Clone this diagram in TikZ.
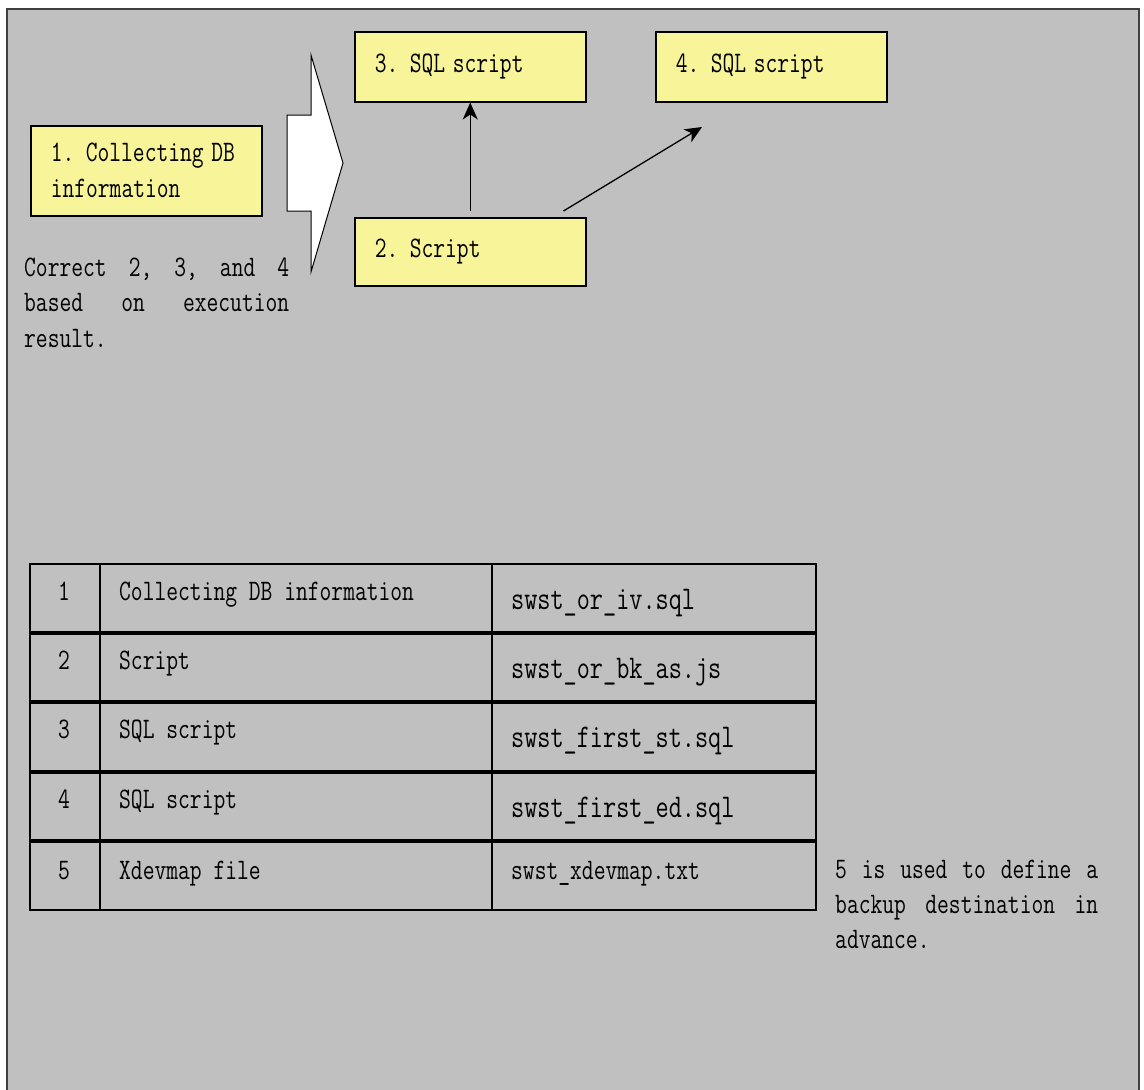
\documentclass[tikz,border=0pt]{standalone}
\usepackage{fontspec}
\usepackage{graphicx}
\usetikzlibrary{arrows.meta}
\definecolor{bg}{RGB}{192,192,192}
\definecolor{boxy}{RGB}{247,244,154}
\definecolor{framec}{RGB}{64,64,64}
\newcommand\tx[1]{\scalebox{1}[1.3]{#1}}
\begin{document}
\begin{tikzpicture}[x=1pt,y=-1pt,
  every node/.style={font=\ttfamily\fontsize{22.9}{36}\selectfont, inner sep=0pt},
  ybox/.style={draw=black, line width=1.5pt, fill=boxy, anchor=north west,
    minimum height=70, text width=191, inner xsep=20, align=left},
  conn/.style={line width=1.3pt, -{Stealth[length=17pt,width=15pt,inset=5pt]}},
  tline/.style={line width=1.5pt},
  rowsep/.style={line width=3.5pt},
  cellc/.style={anchor=base},
  cellw/.style={anchor=base west},
  bigc/.style={font=\ttfamily\fontsize{25.5}{30}\selectfont},
  txtline/.style={anchor=base west}
]
\useasboundingbox (0,0) rectangle (1144,1090);
\fill[white] (0,0) rectangle (1144,1090);
\fill[bg] (7,9) rectangle (1139,1090);
\draw[framec, line width=2pt] (7,1092) -- (7,9) -- (1139,9) -- (1139,1092);

% boxes
\node[ybox, minimum height=90] (b1) at (30,125) {\tx{1. Collecting DB}\\\tx{information}};
\node[ybox] (b3) at (354,31) {\tx{3. SQL script}};
\node[ybox] (b4) at (655,31) {\tx{4. SQL script}};
\node[ybox, minimum height=68] (b2) at (354,217) {\tx{2. Script}};

% block arrow
\draw[fill=white, line width=1pt, line join=miter]
  (287,115) -- (311,115) -- (311,55) -- (343,163) -- (311,272) -- (311,211) -- (287,211) -- cycle;

% connectors
\draw[conn, shorten <=6pt] (b2.north) -- (b3.south);
\coordinate (e4) at (702,127);
\draw[conn] ([shift={(-23,-6)}]b2.north east) -- (e4);

% left note
\node[txtline] (c1) at (24,276) {\tx{\makebox[265pt][l]{Correct\hfill 2,\hfill 3,\hfill and\hfill 4}}};
\node[txtline] (c2) at (24,311) {\tx{\makebox[265pt][l]{based\hfill on\hfill execution}}};
\node[txtline] (c3) at (24,347) {\tx{result.}};

% table
\draw[tline] (30,564) rectangle (816,910);
\draw[tline] (100,564) -- (100,910);
\draw[tline] (492,564) -- (492,910);
\foreach \yy in {633,702,772,841} { \draw[rowsep] (30,\yy) -- (816,\yy); }

\node[cellc] (n1) at (64,600) {\tx{1}};
\node[cellw] (d1) at (119,600) {\tx{Collecting DB information}};
\node[cellw, bigc] (f1) at (511,609) {\tx{swst\_or\_iv.sql}};
\node[cellc] (n2) at (64,669) {\tx{2}};
\node[cellw] (d2) at (119,669) {\tx{Script}};
\node[cellw, bigc] (f2) at (511,678) {\tx{swst\_or\_bk\_as.js}};
\node[cellc] (n3) at (64,738) {\tx{3}};
\node[cellw] (d3) at (119,738) {\tx{SQL script}};
\node[cellw, bigc] (f3) at (511,747) {\tx{swst\_first\_st.sql}};
\node[cellc] (n4) at (64,808) {\tx{4}};
\node[cellw] (d4) at (119,808) {\tx{SQL script}};
\node[cellw, bigc] (f4) at (511,817) {\tx{swst\_first\_ed.sql}};
\node[cellc] (n5) at (64,879) {\tx{5}};
\node[cellw] (d5) at (119,879) {\tx{Xdevmap file}};
\node[cellw] (f5) at (511,879) {\tx{swst\_xdevmap.txt}};

% right note
\node[txtline] (r1) at (835,878) {\tx{\makebox[263pt][l]{5\hfill is\hfill used\hfill to\hfill define\hfill a}}};
\node[txtline] (r2) at (835,913) {\tx{\makebox[263pt][l]{backup\hfill destination\hfill in}}};
\node[txtline] (r3) at (835,948) {\tx{advance.}};
\end{tikzpicture}
\end{document}
